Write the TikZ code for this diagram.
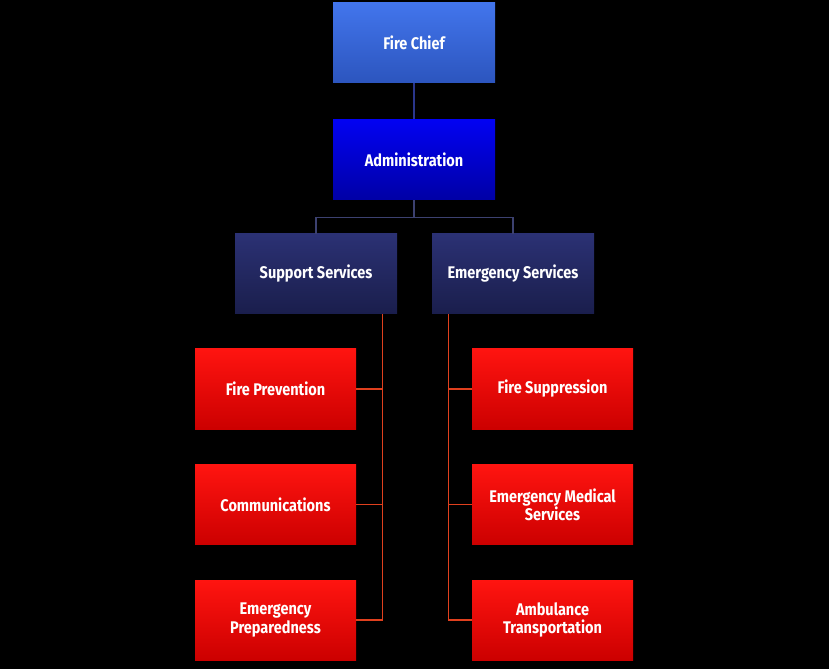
\documentclass[tikz,border=0pt]{standalone}
\usepackage{fontspec}
\setmainfont{Fira Sans}[FakeStretch=0.86]
\usepackage{xcolor}
\usetikzlibrary{positioning,calc}

\definecolor{chiefTop}{HTML}{4275EC}
\definecolor{chiefBot}{HTML}{2C55BE}
\definecolor{adminTop}{HTML}{0202F2}
\definecolor{adminBot}{HTML}{0000A6}
\definecolor{servTop}{HTML}{2B3174}
\definecolor{servBot}{HTML}{1A1E4C}
\definecolor{redTop}{HTML}{FF1410}
\definecolor{redBot}{HTML}{CC0000}
\definecolor{blueLine}{HTML}{2A368C}
\definecolor{navyLine}{HTML}{3C4170}
\definecolor{redLine}{HTML}{E0401E}

\begin{document}
\begin{tikzpicture}[
  font=\bfseries\fontsize{12}{13}\selectfont,
  box/.style={align=center, text=white, minimum width=4.05cm, minimum height=2cm, inner sep=2pt},
  chief/.style={box, top color=chiefTop, bottom color=chiefBot},
  admin/.style={box, top color=adminTop, bottom color=adminBot},
  service/.style={box, top color=servTop, bottom color=servBot},
  unit/.style={box, minimum width=4.025cm, top color=redTop, bottom color=redBot},
  topline/.style={blueLine, line width=0.9pt},
  midline/.style={navyLine, line width=0.9pt},
  subline/.style={redLine, line width=0.9pt}
]
\fill[black] (0,0) rectangle (20.725,-16.725);
\useasboundingbox (0,0) rectangle (20.725,-16.725);

\node[chief] (chief) at (10.35,-1.075) {Fire Chief};
\node[admin, below=0.9cm of chief] (admin) {Administration};

\node[service] (support) at (7.9,-6.85) {Support Services};
\node[service] (emerg) at (12.825,-6.85) {Emergency Services};

\node[unit] (prev) at (6.8875,-9.725) {Fire Prevention};
\node[unit, below=0.875cm of prev] (comm) {Communications};
\node[unit, below=0.875cm of comm] (prep) {Emergency\\Preparedness};

\node[unit] (supp) at (13.8125,-9.725) {Fire Suppression};
\node[unit, below=0.875cm of supp] (ems) {Emergency Medical\\Services};
\node[unit, below=0.875cm of ems] (amb) {Ambulance\\Transportation};

\coordinate (hub) at ($(admin.south)+(0,-0.45)$);
\coordinate (sbus) at ([xshift=-0.375cm]support.south east);
\coordinate (ebus) at ([xshift=0.425cm]emerg.south west);

\draw[topline] (chief) -- (admin);
\draw[midline] (admin.south) -- (hub);
\draw[midline] (hub) -| (support.north);
\draw[midline] (hub) -| (emerg.north);

\draw[subline] (sbus) |- (prep.east);
\draw[subline] (prev.east) -- (prev.east -| sbus);
\draw[subline] (comm.east) -- (comm.east -| sbus);

\draw[subline] (ebus) |- (amb.west);
\draw[subline] (supp.west) -- (supp.west -| ebus);
\draw[subline] (ems.west) -- (ems.west -| ebus);
\end{tikzpicture}
\end{document}
